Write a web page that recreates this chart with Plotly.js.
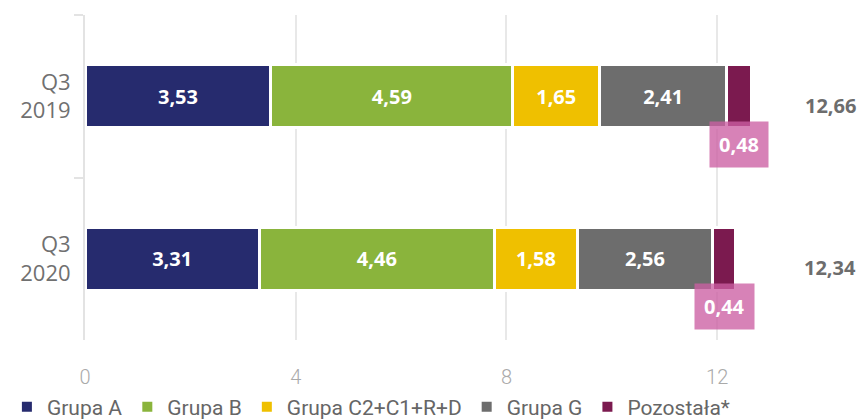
<!DOCTYPE html>
<html><head><meta charset="utf-8">
<script src="https://cdn.plot.ly/plotly-3.0.1.min.js"></script>
<style>html,body{margin:0;padding:0;background:#fff}</style>
</head><body><div id="chart" style="width:862px;height:420px"></div>
<script>
const categories = ["Q3<br>2019", "Q3<br>2020"];
const seriesNames = ["Grupa A", "Grupa B", "Grupa C2+C1+R+D", "Grupa G", "Pozostała*"];
const grupaA = [3.53, 3.31];
const grupaB = [4.59, 4.46];
const grupaC = [1.65, 1.58];
const grupaG = [2.41, 2.56];
const pozostala = [0.48, 0.44];
const totals = [12.66, 12.34];
const xTicks = [0, 4, 8, 12];

const colors = ["#262b6e", "#8ab43c", "#efc000", "#6d6d6d", "#7b1a4f"];
const seriesVals = [grupaA, grupaB, grupaC, grupaG, pozostala];
const fmt = v => v.toFixed(2).replace(".", ",");

const traces = seriesVals.map((vals, i) => ({
  type: "bar", orientation: "h", name: seriesNames[i],
  y: categories, x: vals,
  marker: {color: colors[i], line: {color: "#ffffff", width: 3}},
  text: i < 4 ? vals.map(fmt) : vals.map(() => ""),
  textposition: i < 4 ? "inside" : "none",
  insidetextanchor: "middle",
  textfont: {family: "Open Sans", size: 20, color: "#ffffff", weight: 700},
  hoverinfo: "none"
}));

const annotations = [];
categories.forEach((c, j) => {
  const start = grupaA[j] + grupaB[j] + grupaC[j] + grupaG[j];
  annotations.push({
    x: start + pozostala[j] / 2, y: c, xref: "x", yref: "y",
    text: fmt(pozostala[j]), showarrow: false, yshift: -48,
    bgcolor: "rgba(204,95,163,0.78)", borderpad: 9,
    font: {family: "Open Sans", size: 20, color: "#ffffff", weight: 700}
  });
  annotations.push({
    x: 14.15, y: c, xref: "x", yref: "y",
    text: fmt(totals[j]), showarrow: false, yshift: -9,
    font: {family: "Open Sans", size: 20, color: "#6d6d6d", weight: 700}
  });
});

const layout = {
  width: 862, height: 420,
  margin: {l: 85, r: 20, t: 15, b: 80},
  barmode: "stack", bargap: 0.61,
  paper_bgcolor: "#ffffff", plot_bgcolor: "#ffffff",
  showlegend: true,
  legend: {orientation: "h", xref: "container", yref: "container", x: 0.008, y: 0.031,
    xanchor: "left", yanchor: "middle", traceorder: "normal",
    bgcolor: "rgba(0,0,0,0)",
    font: {family: "Roboto", size: 21, color: "#666666"},
    itemwidth: 30, itemsizing: "constant"},
  xaxis: {range: [0, 14.37], tickvals: xTicks, ticktext: xTicks.map(String),
    showgrid: true, gridcolor: "#e8e8e8", gridwidth: 2, zeroline: false,
    showline: false, ticks: "", ticklabelstandoff: 23,
    tickfont: {family: "Roboto", size: 20, color: "#aaaaaa", weight: 300}},
  yaxis: {autorange: "reversed", type: "category", tickson: "boundaries",
    ticks: "outside", ticklen: 9, tickcolor: "#e3e3e3", tickwidth: 2,
    showline: true, linecolor: "#e3e3e3", linewidth: 2, showgrid: false,
    ticklabelstandoff: 8,
    tickfont: {family: "Open Sans", size: 22, color: "#707070"}},
  annotations: annotations
};
Plotly.newPlot("chart", traces, layout, {displayModeBar: false, staticPlot: true});
</script></body></html>
